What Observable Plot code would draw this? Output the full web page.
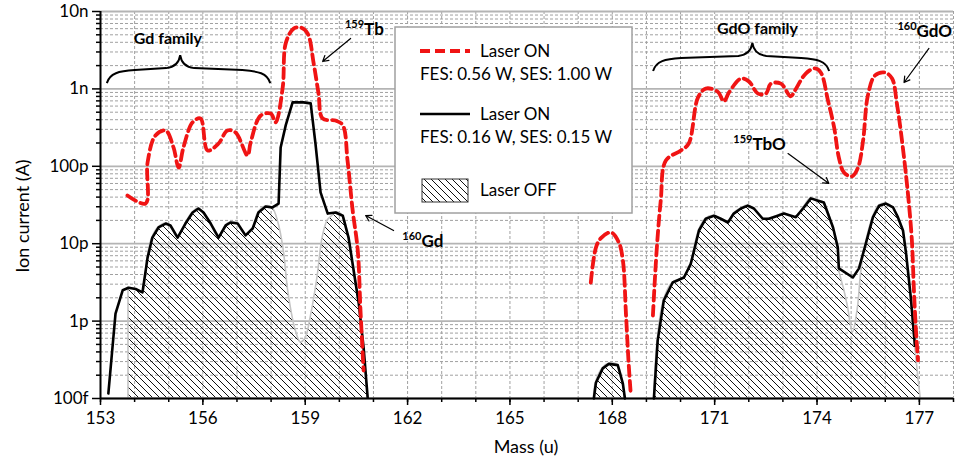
<!DOCTYPE html>
<html><head><meta charset="utf-8">
<script src="https://cdn.jsdelivr.net/npm/d3@7"></script>
<script src="https://cdn.jsdelivr.net/npm/@observablehq/plot@0.6"></script>
<style>body{margin:0;background:#fff;}</style>
</head><body><div id="chart"></div>
<script>
// ---- Laser ON, FES 0.56 W / SES 1.00 W (red dashed) ----
const redGdMass = [153.79,154.32,154.38,154.61,154.91,155.14,155.29,155.43,155.70,155.93,156.14,156.46,156.72,156.96,157.31,157.40,157.69,157.99,158.13,158.34,158.43,158.66,158.87,159.07,159.25,159.39,159.51,159.89,160.10,160.24,160.39,160.54,160.62,160.71];
const redGdCurrent = [4.2e-11,3.3e-11,1.12e-10,2.5e-10,2.9e-10,1.75e-10,9.6e-11,1.75e-10,3.7e-10,4.15e-10,1.6e-10,1.97e-10,2.9e-10,2.73e-10,1.38e-10,2.03e-10,4.5e-10,4.8e-10,3.7e-10,1.04e-9,3.9e-9,6.0e-9,6.2e-9,5.2e-9,2.1e-9,8.7e-10,4.15e-10,3.9e-10,3.4e-10,1.19e-10,2.7e-11,8.2e-12,1.37e-12,2.3e-13];
const redMidMass = [167.37,167.52,167.66,167.96,168.19,168.31,168.40,168.48,168.54];
const redMidCurrent = [3.15e-12,8.9e-12,1.17e-11,1.4e-11,1.04e-11,6.1e-12,1.25e-12,2.8e-13,1.16e-13];
const redGdOMass = [169.19,169.30,169.42,169.57,170.01,170.24,170.51,170.74,171.09,171.27,171.42,171.77,172.00,172.27,172.50,172.65,172.94,173.23,173.35,173.67,173.94,174.11,174.32,174.50,174.64,174.79,175.02,175.20,175.35,175.49,175.70,175.99,176.20,176.34,176.49,176.67,176.78,176.84,176.90,176.96];
const redGdOCurrent = [1.18e-12,8.2e-12,3.6e-11,1.19e-10,1.6e-10,1.97e-10,7.7e-10,1.01e-9,9.2e-10,6.9e-10,9.0e-10,1.36e-9,1.25e-9,8.7e-10,8.7e-10,1.17e-9,1.17e-9,8.0e-10,9.5e-10,1.58e-9,1.84e-9,1.63e-9,7.1e-10,3.2e-10,1.3e-10,8.3e-11,7.4e-11,9.6e-11,2.15e-10,8.2e-10,1.49e-9,1.63e-9,1.36e-9,6.5e-10,2.15e-10,4.2e-11,1.1e-11,2.5e-12,7.6e-13,3.1e-13];

// ---- Laser ON, FES 0.16 W / SES 0.15 W (black solid) ----
const blackGdMass = [153.23,153.44,153.65,153.82,154.03,154.23,154.38,154.52,154.70,154.91,155.05,155.26,155.49,155.70,155.87,156.02,156.23,156.46,156.67,156.81,157.02,157.25,157.46,157.63,157.84,158.04,158.22,158.28,158.43,158.63,158.95,159.16,159.30,159.45,159.66,159.89,160.10,160.27,160.42,160.57,160.71,160.83];
const blackGdCurrent = [1.16e-13,1.25e-12,2.5e-12,2.7e-12,2.6e-12,2.35e-12,6.6e-12,1.2e-11,1.62e-11,1.82e-11,1.72e-11,1.2e-11,1.82e-11,2.53e-11,2.85e-11,2.53e-11,1.82e-11,1.2e-11,1.72e-11,1.88e-11,1.82e-11,1.28e-11,1.57e-11,2.53e-11,3.03e-11,2.94e-11,3.3e-11,1.75e-10,3.4e-10,6.7e-10,6.7e-10,6.5e-10,1.97e-10,4.6e-11,2.45e-11,2.53e-11,2.3e-11,1.2e-11,4.5e-12,1.69e-12,4.6e-13,1.03e-13];
const blackMidMass = [167.46,167.52,167.72,167.90,168.16,168.31,168.37];
const blackMidCurrent = [1e-13,1.6e-13,2.45e-13,2.8e-13,2.7e-13,1.56e-13,1e-13];
const blackGdOMass = [169.22,169.33,169.51,169.77,170.10,170.30,170.54,170.74,170.98,171.18,171.39,171.56,171.77,171.97,172.15,172.41,172.59,172.85,173.03,173.38,173.59,173.82,174.03,174.20,174.47,174.61,174.64,175.05,175.23,175.43,175.64,175.82,176.02,176.23,176.37,176.52,176.61,176.75,176.87];
const blackGdOCurrent = [1e-13,5.6e-13,1.85e-12,3.15e-12,3.66e-12,5.5e-12,1.48e-11,2.1e-11,2.3e-11,2.1e-11,1.88e-11,2.45e-11,2.85e-11,3.1e-11,2.85e-11,2.1e-11,2.1e-11,2.3e-11,2.45e-11,2.2e-11,2.85e-11,3.85e-11,3.6e-11,3.4e-11,1.62e-11,8.9e-12,4.8e-12,3.66e-12,4.8e-12,1.0e-11,2.2e-11,3.1e-11,3.3e-11,2.94e-11,2.2e-11,1.48e-11,7.5e-12,2.0e-12,4.8e-13];

// ---- Laser OFF (hatched area) ----
const offGdMass = [153.82,154.03,154.23,154.38,154.52,154.70,154.91,155.05,155.26,155.49,155.70,155.87,156.02,156.23,156.46,156.67,156.81,157.02,157.25,157.46,157.63,157.84,158.04,158.22,158.37,158.51,158.72,158.87,159.01,159.16,159.36,159.51,159.66,159.80,159.89,160.10,160.27,160.42,160.57,160.71,160.83];
const offGdCurrent = [2.7e-12,2.6e-12,2.35e-12,6.6e-12,1.2e-11,1.62e-11,1.82e-11,1.72e-11,1.2e-11,1.82e-11,2.53e-11,2.85e-11,2.53e-11,1.82e-11,1.2e-11,1.72e-11,1.88e-11,1.82e-11,1.28e-11,1.57e-11,2.53e-11,3.03e-11,2.9e-11,1.82e-11,8.2e-12,2.3e-12,7.6e-13,5.3e-13,6.0e-13,1.11e-12,3.66e-12,1.2e-11,2.0e-11,2.3e-11,2.53e-11,2.3e-11,1.2e-11,4.5e-12,1.69e-12,4.6e-13,1.03e-13];
const offMidMass = [167.46,167.52,167.72,167.90,168.16,168.31,168.37];
const offMidCurrent = [1e-13,1.6e-13,2.45e-13,2.8e-13,2.7e-13,1.56e-13,1e-13];
const offGdOMass = [169.22,169.33,169.51,169.77,170.10,170.30,170.54,170.74,170.98,171.18,171.39,171.56,171.77,171.97,172.15,172.41,172.59,172.85,173.03,173.38,173.59,173.82,174.03,174.20,174.47,174.61,174.64,174.80,174.91,175.05,175.20,175.29,175.43,175.64,175.82,176.02,176.23,176.37,176.52,176.61,176.75,176.87,176.98,177.04];
const offGdOCurrent = [1e-13,5.6e-13,1.85e-12,3.15e-12,3.66e-12,5.5e-12,1.48e-11,2.1e-11,2.3e-11,2.1e-11,1.88e-11,2.45e-11,2.85e-11,3.1e-11,2.85e-11,2.1e-11,2.1e-11,2.3e-11,2.45e-11,2.2e-11,2.85e-11,3.85e-11,3.6e-11,3.4e-11,1.62e-11,8.9e-12,4.8e-12,2.5e-12,1.5e-12,7.1e-13,1.5e-12,4.1e-12,1.0e-11,2.2e-11,3.1e-11,3.3e-11,2.94e-11,2.2e-11,1.48e-11,7.5e-12,2.0e-12,5e-13,1.7e-13,1e-13];

// ---- ticks ----
const xTicks = [153,156,159,162,165,168,171,174,177];
const xMinorTicks = d3.range(153, 179);
const yTicks = [1e-13,1e-12,1e-11,1e-10,1e-9,1e-8];
const yTickLabels = ["100f","1p","10p","100p","1n","10n"];
const yMinorTicks = [];
for (let e = -13; e < -8; e++) for (let k = 2; k <= 9; k++) yMinorTicks.push(k * Math.pow(10, e));

// ---- annotations ----
const annotationLabels = [
  {sup:"", text:"Gd family", mass:154.99, current:3.7e-9, anchor:"middle"},
  {sup:"159", text:"Tb", mass:160.18, current:4.9e-9, anchor:"start"},
  {sup:"160", text:"Gd", mass:161.86, current:8.9e-12, anchor:"start"},
  {sup:"", text:"GdO family", mass:172.27, current:5.0e-9, anchor:"middle"},
  {sup:"160", text:"GdO", mass:176.37, current:4.6e-9, anchor:"start"},
  {sup:"159", text:"TbO", mass:171.56, current:1.6e-10, anchor:"start"}
];
const annotationArrows = [
  {m1:160.33, c1:4.48e-9, m2:159.51, c2:2.26e-9},
  {m1:161.59, c1:1.48e-11, m2:160.77, c2:2.31e-11},
  {m1:177.28, c1:3.33e-9, m2:176.55, c2:1.21e-9},
  {m1:173.15, c1:1.46e-10, m2:174.35, c2:6.0e-11}
];
const braces = [
  {from:153.2, to:157.99, cusp:155.35, current:1.17e-9},
  {from:169.21, to:174.37, cusp:172.12, current:1.68e-9}
];

const seg = (ms, cs) => ms.map((m, i) => ({mass: m, current: cs[i]}));
const RED = "#f01414";
const redStyle = {x:"mass", y:"current", stroke:RED, strokeWidth:3.8, strokeDasharray:"10,5", curve:"catmull-rom"};
const blackStyle = {x:"mass", y:"current", stroke:"#000", strokeWidth:2.6, strokeLinejoin:"round"};
const offStyle = {x:"mass", y1:1e-13, y2:"current", fill:"url(#hatch)", stroke:"#c4c4c4", strokeWidth:1.6, curve:"catmull-rom"};

const plot = Plot.plot({
  width: 957, height: 469,
  marginLeft: 100, marginRight: 4, marginTop: 11, marginBottom: 71,
  style: {fontFamily: "Lato, sans-serif", fontSize: "17px", color: "#000", background: "#fff"},
  x: {domain: [153, 178]},
  y: {type: "log", domain: [1e-13, 1e-8]},
  marks: [
    Plot.ruleY(yMinorTicks, {stroke:"#a0a0a0", strokeWidth:1, strokeDasharray:"3,2"}),
    Plot.ruleX(xMinorTicks, {stroke:"#a0a0a0", strokeWidth:1, strokeDasharray:"3,2"}),
    Plot.ruleY(yTicks, {stroke:"#b4b4b4", strokeWidth:1.8}),
    Plot.areaY(seg(offGdMass, offGdCurrent), offStyle),
    Plot.areaY(seg(offMidMass, offMidCurrent), offStyle),
    Plot.areaY(seg(offGdOMass, offGdOCurrent), offStyle),
    Plot.line(seg(blackGdMass, blackGdCurrent), blackStyle),
    Plot.line(seg(blackMidMass, blackMidCurrent), blackStyle),
    Plot.line(seg(blackGdOMass, blackGdOCurrent), blackStyle),
    Plot.line(seg(redGdMass, redGdCurrent), redStyle),
    Plot.line(seg(redMidMass, redMidCurrent), redStyle),
    Plot.line(seg(redGdOMass, redGdOCurrent), redStyle),
    Plot.ruleX([153], {stroke:"#000", strokeWidth:2}),
    Plot.ruleY([1e-13], {stroke:"#000", strokeWidth:2}),
    Plot.arrow(annotationArrows, {x1:"m1", y1:"c1", x2:"m2", y2:"c2", stroke:"#000", strokeWidth:1.2, headLength:8}),
    Plot.axisX({ticks: xMinorTicks, tickSize: 4, strokeWidth: 1.5, tickFormat: () => "", label: null}),
    Plot.axisX({ticks: xTicks, tickSize: 7, strokeWidth: 1.5, tickPadding: 6, tickFormat: d => String(d), label: null}),
    Plot.axisY({ticks: yMinorTicks, tickSize: 4, strokeWidth: 1.5, tickFormat: () => "", label: null}),
    Plot.axisY({ticks: yTicks, tickSize: 8, strokeWidth: 1.5, tickPadding: 4, tickFormat: d => yTickLabels[yTicks.indexOf(d)], label: null})
  ]
});

const svg = d3.select(plot);
svg.insert("defs", ":first-child").html(
  '<pattern id="hatch" patternUnits="userSpaceOnUse" width="7" height="7">' +
  '<path d="M-1,-1 L8,8 M-1,6 L1,8 M6,-1 L8,1" stroke="#111" stroke-width="1"/></pattern>');

const xs = plot.scale("x"), ys = plot.scale("y");

// braces
const gB = svg.append("g").attr("fill", "none").attr("stroke", "#000").attr("stroke-width", 2);
for (const b of braces) {
  const x1 = xs.apply(b.from), x2 = xs.apply(b.to), xc = xs.apply(b.cusp), yE = ys.apply(b.current);
  gB.append("path").attr("d",
    `M${x1},${yE} C${x1+3},${yE-10} ${x1+12},${yE-12} ${x1+28},${yE-13} L${xc-14},${yE-15} ` +
    `C${xc-5},${yE-16} ${xc-1},${yE-21} ${xc},${yE-28} C${xc+1},${yE-21} ${xc+5},${yE-16} ${xc+14},${yE-15} ` +
    `L${x2-28},${yE-13} C${x2-12},${yE-12} ${x2-3},${yE-10} ${x2},${yE}`);
}

// labels
const gL = svg.append("g").attr("font-family", "Lato, sans-serif").attr("font-weight", "bold").attr("fill", "#000");
for (const l of annotationLabels) {
  const t = gL.append("text").attr("x", xs.apply(l.mass)).attr("y", ys.apply(l.current)).attr("text-anchor", l.anchor);
  if (l.sup) {
    t.append("tspan").attr("font-size", 11).attr("dy", -7).text(l.sup);
    t.append("tspan").attr("font-size", 17).attr("dy", 7).text(l.text);
  } else {
    t.append("tspan").attr("font-size", 16).text(l.text);
  }
}

// axis titles
svg.append("text").attr("transform", "translate(23,216) rotate(-90)").attr("text-anchor", "middle")
  .attr("dy", "0.35em").attr("font-size", 18).attr("font-family", "Lato, sans-serif").text("Ion current (A)");
svg.append("text").attr("x", 526).attr("y", 447).attr("text-anchor", "middle")
  .attr("dy", "0.35em").attr("font-size", 18).attr("font-family", "Lato, sans-serif").text("Mass (u)");

// legend
const lg = svg.append("g").attr("font-family", "Lato, sans-serif").attr("font-size", 17).attr("text-anchor", "start");
lg.append("rect").attr("x", 395).attr("y", 27).attr("width", 237).attr("height", 186)
  .attr("fill", "#fff").attr("stroke", "#a0a0a0").attr("stroke-width", 1.5);
lg.append("line").attr("x1", 420).attr("x2", 470).attr("y1", 51).attr("y2", 51)
  .attr("stroke", RED).attr("stroke-width", 3.8).attr("stroke-dasharray", "10,5");
lg.append("text").attr("x", 480).attr("y", 51).attr("dy", "0.35em").text("Laser ON");
lg.append("text").attr("x", 420).attr("y", 74).attr("dy", "0.35em").text("FES: 0.56 W, SES: 1.00 W");
lg.append("line").attr("x1", 420).attr("x2", 470).attr("y1", 114).attr("y2", 114)
  .attr("stroke", "#000").attr("stroke-width", 2.6);
lg.append("text").attr("x", 480).attr("y", 114).attr("dy", "0.35em").text("Laser ON");
lg.append("text").attr("x", 420).attr("y", 137).attr("dy", "0.35em").text("FES: 0.16 W, SES: 0.15 W");
lg.append("rect").attr("x", 422).attr("y", 179).attr("width", 46).attr("height", 23)
  .attr("fill", "url(#hatch)").attr("stroke", "#333").attr("stroke-width", 1);
lg.append("text").attr("x", 480).attr("y", 190).attr("dy", "0.35em").text("Laser OFF");

document.getElementById("chart").appendChild(plot);
</script>
</body></html>
